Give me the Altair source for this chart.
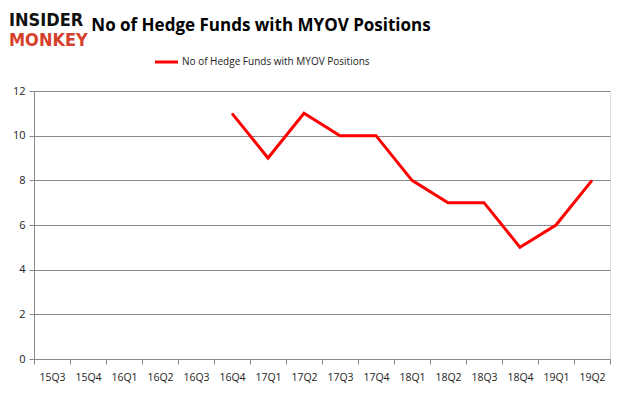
import altair as alt
import pandas as pd

quarters = ["15Q3", "15Q4", "16Q1", "16Q2", "16Q3", "16Q4", "17Q1", "17Q2",
            "17Q3", "17Q4", "18Q1", "18Q2", "18Q3", "18Q4", "19Q1", "19Q2"]
data_quarters = ["16Q4", "17Q1", "17Q2", "17Q3", "17Q4", "18Q1", "18Q2",
                 "18Q3", "18Q4", "19Q1", "19Q2"]
values = [11, 9, 11, 10, 10, 8, 7, 7, 5, 6, 8]
series_name = "No of Hedge Funds with MYOV Positions"
title_text = "No of Hedge Funds with MYOV Positions"

df = pd.DataFrame({"q": data_quarters, "v": values})

x_enc = alt.X("q:N", sort=quarters,
              scale=alt.Scale(domain=quarters, paddingInner=0, paddingOuter=0),
              axis=alt.Axis(title=None, labelAngle=0, tickBand="extent",
                            labelFont="Open Sans", labelFontSize=10.5,
                            labelColor="#222", labelPadding=8,
                            domainColor="#888", tickColor="#888", tickSize=5))
y_enc = alt.Y("v:Q", scale=alt.Scale(domain=[0, 12], nice=False),
              axis=alt.Axis(title=None, values=[0, 2, 4, 6, 8, 10, 12],
                            labelFont="Open Sans", labelFontSize=11,
                            labelColor="#222", labelPadding=4,
                            gridColor="#888", gridWidth=1,
                            domainColor="#888", tickColor="#888", tickSize=5))

line = alt.Chart(df).mark_line(color="#ff0000", strokeWidth=3).encode(x=x_enc, y=y_enc)

title = alt.Chart(pd.DataFrame({"t": [title_text]})).mark_text(
    font="Open Sans", fontSize=17, fontWeight="bold", color="#000", align="center",
    baseline="middle").encode(text="t:N", x=alt.value(227), y=alt.value(-65))

logo1 = alt.Chart(pd.DataFrame({"t": ["INSIDER"]})).mark_text(
    font="DejaVu Sans Condensed", fontSize=18, fontWeight="bold", color="#111", align="left",
    baseline="middle").encode(text="t:N", x=alt.value(-25), y=alt.value(-70))
logo2 = alt.Chart(pd.DataFrame({"t": ["MONKEY"]})).mark_text(
    font="DejaVu Sans Condensed", fontSize=18, fontWeight="bold", color="#d6402a", align="left",
    baseline="middle").encode(text="t:N", x=alt.value(-25), y=alt.value(-50))

leg_line = alt.Chart(pd.DataFrame({"a": [0]})).mark_rule(
    color="#ff0000", strokeWidth=3).encode(x=alt.value(121), x2=alt.value(144),
                                           y=alt.value(-29))
leg_text = alt.Chart(pd.DataFrame({"t": [series_name]})).mark_text(
    font="Open Sans", fontSize=10, color="#222", align="left",
    baseline="middle").encode(text="t:N", x=alt.value(148), y=alt.value(-29))

chart = alt.layer(line, title, logo1, logo2, leg_line, leg_text).properties(
    width=576, height=268,
    autosize=alt.AutoSizeParams(type="none"),
    padding={"left": 26, "top": 83, "right": 7, "bottom": 28},
).configure_view(stroke=None).configure(background="white")

chart.save("out.html", embed_options={"renderer": "svg", "actions": False})
